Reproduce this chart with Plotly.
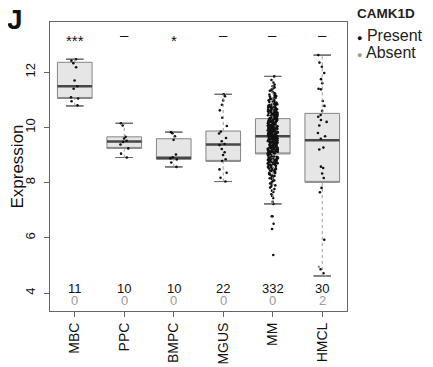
import plotly.graph_objects as go

# ---- data ----
categories = ["MBC", "PPC", "BMPC", "MGUS", "MM", "HMCL"]
q1 = [11.05, 9.24, 8.84, 8.77, 9.04, 8.01]
median = [11.49, 9.49, 8.90, 9.38, 9.68, 9.54]
q3 = [12.36, 9.66, 9.59, 9.87, 10.32, 10.51]
lower_whisker = [10.78, 8.91, 8.57, 8.04, 7.23, 4.62]
upper_whisker = [12.47, 10.15, 9.83, 11.20, 11.85, 12.62]

significance = ["***", "–", "*", "–", "–", "–"]
n_present = [11, 10, 10, 22, 332, 30]
n_absent = [0, 0, 0, 0, 0, 2]

mbc_present = [12.47, 12.42, 12.33, 12.18, 11.70, 11.49, 11.40, 11.09, 11.05, 10.95, 10.80]
ppc_present = [10.15, 10.07, 9.66, 9.60, 9.52, 9.47, 9.38, 9.24, 9.05, 8.91]
bmpc_present = [9.83, 9.79, 9.68, 9.55, 9.02, 8.92, 8.88, 8.84, 8.73, 8.57]
mgus_present = [11.20, 11.13, 10.98, 10.82, 10.62, 10.35, 10.05, 9.85, 9.78, 9.62, 9.50,
                9.40, 9.36, 9.22, 9.10, 9.00, 8.85, 8.78, 8.48, 8.36, 8.18, 8.04]
mm_present = [
    5.38, 6.32, 6.51, 6.78, 6.78,
    7.23, 7.31, 7.44, 7.52, 7.58, 7.66, 7.71, 7.77,
    7.82, 7.86, 7.90, 7.93, 7.97, 8.01, 8.05, 8.08,
    8.11, 8.13, 8.16, 8.19, 8.21, 8.24, 8.26, 8.29, 8.31, 8.34, 8.36, 8.39,
    8.41, 8.42, 8.44, 8.46, 8.47, 8.49, 8.51, 8.52, 8.54, 8.55, 8.57, 8.58, 8.60, 8.61,
    8.63, 8.64, 8.66, 8.67, 8.68, 8.69,
    8.70, 8.71, 8.72, 8.73, 8.74, 8.75, 8.76, 8.77, 8.78, 8.79, 8.80, 8.81, 8.82, 8.83,
    8.84, 8.85, 8.86, 8.87, 8.88, 8.89, 8.90, 8.91, 8.92, 8.94, 8.95, 8.96, 8.98, 8.99,
    9.01, 9.03,
    9.04, 9.05, 9.05, 9.06, 9.07, 9.08, 9.09, 9.09, 9.10, 9.11, 9.12, 9.13, 9.13, 9.14,
    9.15, 9.16, 9.17, 9.17, 9.18, 9.19, 9.20, 9.21, 9.21, 9.22, 9.23, 9.24, 9.25, 9.25,
    9.26, 9.27, 9.28, 9.29, 9.29, 9.30, 9.31, 9.32, 9.33, 9.33, 9.34, 9.35, 9.36, 9.37,
    9.37, 9.38, 9.39, 9.40, 9.41, 9.41, 9.42, 9.43, 9.44, 9.45, 9.45, 9.46, 9.47, 9.48,
    9.49, 9.49, 9.50, 9.51, 9.52, 9.53, 9.53, 9.54, 9.55, 9.56, 9.57, 9.57, 9.58, 9.59,
    9.60, 9.61, 9.61, 9.62, 9.63, 9.64, 9.65, 9.65, 9.66, 9.67, 9.67, 9.68, 9.68,
    9.69, 9.70, 9.70, 9.71, 9.72, 9.73, 9.74, 9.74, 9.75, 9.76, 9.77, 9.78, 9.78, 9.79,
    9.80, 9.81, 9.82, 9.82, 9.83, 9.84, 9.85, 9.86, 9.86, 9.87, 9.88, 9.89, 9.90, 9.90,
    9.91, 9.92, 9.93, 9.94, 9.94, 9.95, 9.96, 9.97, 9.98, 9.98, 9.99, 10.00, 10.01, 10.02,
    10.02, 10.03, 10.04, 10.05, 10.06, 10.06, 10.07, 10.08, 10.09, 10.10, 10.10, 10.11,
    10.12, 10.13, 10.14, 10.14, 10.15, 10.16, 10.17, 10.18, 10.18, 10.19, 10.20, 10.21,
    10.22, 10.22, 10.23, 10.24, 10.25, 10.26, 10.26, 10.27, 10.28, 10.29, 10.30, 10.30,
    10.31, 10.31, 10.32, 10.32, 10.33,
    10.34, 10.35, 10.36, 10.37, 10.37, 10.38, 10.39, 10.40, 10.41, 10.42, 10.43, 10.43,
    10.44, 10.45, 10.46, 10.47, 10.48, 10.48, 10.49, 10.50, 10.51, 10.52, 10.52, 10.53,
    10.54, 10.55, 10.56, 10.56, 10.57, 10.58, 10.58, 10.59, 10.59, 10.60, 10.60,
    10.61, 10.62, 10.64, 10.65, 10.66, 10.68, 10.69, 10.70, 10.71, 10.73, 10.74, 10.75,
    10.77, 10.78, 10.80, 10.81, 10.83, 10.84, 10.85, 10.87, 10.88, 10.90,
    10.92, 10.94, 10.96, 10.98, 11.00, 11.02, 11.04, 11.06, 11.08, 11.10, 11.12, 11.14,
    11.17, 11.19,
    11.22, 11.25, 11.29, 11.33, 11.37, 11.41, 11.45, 11.49,
    11.55, 11.63, 11.72, 11.85,
]
hmcl_present = [12.62, 12.35, 12.20, 11.97, 11.75, 11.60, 11.40, 11.38, 10.96, 10.78,
                10.60, 10.45, 10.39, 10.27, 10.20, 10.07, 9.80, 9.68, 9.59, 9.27,
                9.20, 8.58, 8.53, 8.33, 8.17, 7.81, 7.65, 5.93, 4.86, 4.72]
hmcl_absent = [4.95, 4.62]

present_values = [mbc_present, ppc_present, bmpc_present, mgus_present, mm_present, hmcl_present]

FONT = "Liberation Sans, Arial, sans-serif"
BOX_W = 0.7
BOX_LINE = "#858585"

fig = go.Figure()

# dotted whiskers (from box edge to whisker end)
wx, wy = [], []
for cat, lo, a, b, hi in zip(categories, lower_whisker, q1, q3, upper_whisker):
    wx += [cat, cat, None, cat, cat, None]
    wy += [lo, a, None, b, hi, None]
fig.add_trace(go.Scatter(
    x=wx, y=wy, mode="lines", line=dict(color="#9a9a9a", width=1, dash="dot"),
    hoverinfo="skip", showlegend=False,
))

# whisker caps (zero-height boxes at whisker ends)
for ends in (lower_whisker, upper_whisker):
    fig.add_trace(go.Box(
        x=categories, q1=ends, median=ends, q3=ends, lowerfence=ends, upperfence=ends,
        width=BOX_W * 0.5, whiskerwidth=0,
        fillcolor="rgba(0,0,0,0)", line=dict(color="#707070", width=1),
        boxpoints=False, hoverinfo="skip", showlegend=False,
    ))

# boxes
fig.add_trace(go.Box(
    x=categories, q1=q1, median=q1, q3=q3, lowerfence=q1, upperfence=q3,
    width=BOX_W, whiskerwidth=0,
    fillcolor="#e6e6e6", line=dict(color=BOX_LINE, width=1),
    boxpoints=False, hoverinfo="skip", showlegend=False,
))
# median bars
fig.add_trace(go.Box(
    x=categories, q1=median, median=median, q3=median,
    lowerfence=median, upperfence=median,
    width=BOX_W, whiskerwidth=0,
    fillcolor="rgba(0,0,0,0)", line=dict(color="#474747", width=2.5),
    boxpoints=False, hoverinfo="skip", showlegend=False,
))

# jittered points (present)
for cat, vals in zip(categories, present_values):
    fig.add_trace(go.Box(
        x=[cat] * len(vals), y=vals, width=BOX_W,
        boxpoints="all", jitter=0.3, pointpos=0,
        fillcolor="rgba(0,0,0,0)", line=dict(width=0, color="rgba(0,0,0,0)"),
        marker=dict(color="#111111", size=2.6),
        hoverinfo="skip", showlegend=False,
    ))
# absent points
fig.add_trace(go.Box(
    x=["HMCL"] * len(hmcl_absent), y=hmcl_absent, width=BOX_W,
    boxpoints="all", jitter=0.3, pointpos=0,
    fillcolor="rgba(0,0,0,0)", line=dict(width=0, color="rgba(0,0,0,0)"),
    marker=dict(color="#999999", size=2.6),
    hoverinfo="skip", showlegend=False,
))

annotations = []
for cat, sig, npres, nabs in zip(categories, significance, n_present, n_absent):
    annotations.append(dict(x=cat, y=13.15 if sig.startswith("*") else 13.38, text=sig,
                            showarrow=False, font=dict(size=15, color="#111", family=FONT),
                            xanchor="center", yanchor="middle"))
    annotations.append(dict(x=cat, y=4.18, text=str(npres), showarrow=False,
                            font=dict(size=13, color="#111", family=FONT),
                            xanchor="center", yanchor="middle"))
    annotations.append(dict(x=cat, y=3.74, text=str(nabs), showarrow=False,
                            font=dict(size=13, color="#9a9a9a", family=FONT),
                            xanchor="center", yanchor="middle"))

annotations += [
    dict(xref="paper", yref="paper", x=-0.118, y=1.01, text="<b>J</b>", showarrow=False,
         font=dict(size=28, color="#111", family=FONT), xanchor="center", yanchor="middle"),
    dict(xref="paper", yref="paper", x=1.028, y=1.03, text="<b>CAMK1D</b>", showarrow=False,
         font=dict(size=13.5, color="#222", family=FONT), xanchor="left", yanchor="middle"),
    dict(xref="paper", yref="paper", x=1.028, y=0.952,
         text="<span style='color:#111;font-size:9px'>●</span> Present", showarrow=False,
         font=dict(size=16, color="#222", family=FONT), xanchor="left", yanchor="middle"),
    dict(xref="paper", yref="paper", x=1.028, y=0.896,
         text="<span style='color:#999;font-size:9px'>●</span> Absent", showarrow=False,
         font=dict(size=16, color="#222", family=FONT), xanchor="left", yanchor="middle"),
]

# the page body has an 8px margin; size and margins compensate so the plot
# area lands at x 50-347, y 22-311 of the window
fig.update_layout(
    width=425, height=359,
    margin=dict(l=42, r=86, t=14, b=56),
    paper_bgcolor="white", plot_bgcolor="white",
    boxmode="overlay",
    font=dict(family=FONT, color="#222"),
    annotations=annotations,
    showlegend=False,
)
fig.update_xaxes(
    type="category", categoryorder="array", categoryarray=categories,
    range=[-0.5, 5.5], showline=True, mirror=True, linecolor="#666", linewidth=1,
    ticks="outside", ticklen=5, tickcolor="#666", tickangle=-90, automargin=False,
    tickfont=dict(size=14, color="#111", family=FONT), showgrid=False, zeroline=False,
)
fig.update_yaxes(
    range=[3.35, 13.82], tickvals=[4, 6, 8, 10, 12],
    showline=True, mirror=True, linecolor="#666", linewidth=1,
    ticks="outside", ticklen=5, tickcolor="#666", tickangle=-90, automargin=False,
    ticklabelstandoff=4,
    tickfont=dict(size=13, color="#111", family=FONT), showgrid=False, zeroline=False,
    title=dict(text="Expression", font=dict(size=17, color="#111", family=FONT), standoff=12),
)

fig.write_html("out.html")
